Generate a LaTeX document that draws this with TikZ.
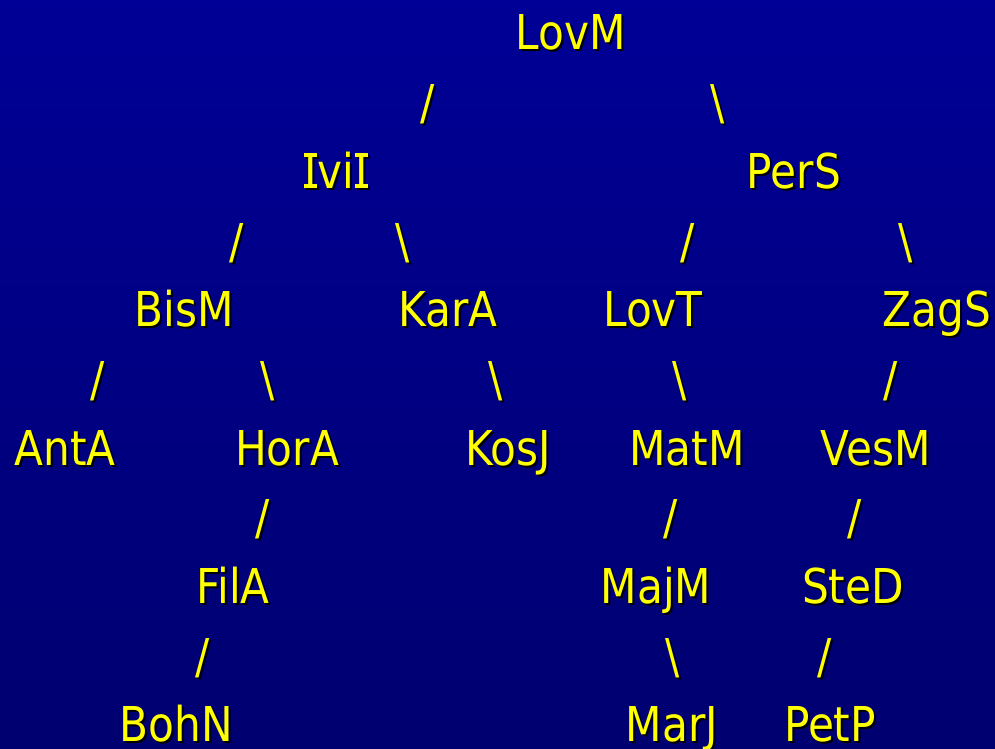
\documentclass[tikz,border=0pt]{standalone}
\usepackage{fontspec}
\setmainfont{DejaVu Sans}[FakeStretch=0.88]
\definecolor{bgtop}{RGB}{0,0,150}
\definecolor{bgbot}{RGB}{0,0,112}
\definecolor{labelyellow}{RGB}{255,255,0}
% yellow text with a small black drop shadow behind it
\newcommand\dropshadowed[1]{\rlap{\kern2pt\raisebox{-2pt}{\color{black}#1}}#1}
% capital I with serifs at top and bottom
\newcommand\serifI{\leavevmode\hbox{\kern0.02em\rlap{\rule{0.26em}{0.075em}}\rlap{\raisebox{0.654em}{\rule{0.26em}{0.075em}}}I\kern0.02em}}
\begin{document}
\begin{tikzpicture}[x=1pt,y=-1pt,
  lbl/.style={anchor=base, inner sep=0pt, text=labelyellow,
    font=\fontsize{48}{57}\selectfont},
  link/.style={lbl}]
\useasboundingbox (0,0) rectangle (995,748);
\shade[top color=bgtop, bottom color=bgbot] (0,0) rectangle (995,748);

% level 0
\node[lbl] (lovm) at (571,49) {\dropshadowed{LovM}};
\node[link] (l1a) at (428,119) {\dropshadowed{/}};
\node[link] (l1b) at (718,119) {\dropshadowed{\textbackslash}};
% level 1
\node[lbl] (ivii) at (336,188) {\dropshadowed{\serifI vi\serifI}};
\node[lbl] (pers) at (794,188) {\dropshadowed{PerS}};
\node[link] (l2a) at (237,258) {\dropshadowed{/}};
\node[link] (l2b) at (403,258) {\dropshadowed{\textbackslash}};
\node[link] (l2c) at (688,258) {\dropshadowed{/}};
\node[link] (l2d) at (906,258) {\dropshadowed{\textbackslash}};
% level 2
\node[lbl] (bism) at (184,326.5) {\dropshadowed{BisM}};
\node[lbl] (kara) at (448,326.5) {\dropshadowed{KarA}};
\node[lbl] (lovt) at (653,326.5) {\dropshadowed{LovT}};
\node[lbl] (zags) at (937,326.5) {\dropshadowed{ZagS}};
\node[link] (l3a) at (98,396) {\dropshadowed{/}};
\node[link] (l3b) at (268,396) {\dropshadowed{\textbackslash}};
\node[link] (l3c) at (496,396) {\dropshadowed{\textbackslash}};
\node[link] (l3d) at (680,396) {\dropshadowed{\textbackslash}};
\node[link] (l3e) at (891,396) {\dropshadowed{/}};
% level 3
\node[lbl] (anta) at (65,465) {\dropshadowed{AntA}};
\node[lbl] (hora) at (287,465) {\dropshadowed{HorA}};
\node[lbl] (kosj) at (508,465) {\dropshadowed{KosJ}};
\node[lbl] (matm) at (687,465) {\dropshadowed{MatM}};
\node[lbl] (vesm) at (876,465) {\dropshadowed{VesM}};
\node[link] (l4a) at (263,534.5) {\dropshadowed{/}};
\node[link] (l4b) at (671,534.5) {\dropshadowed{/}};
\node[link] (l4c) at (855,534.5) {\dropshadowed{/}};
% level 4
\node[lbl] (fila) at (233,603.5) {\dropshadowed{FilA}};
\node[lbl] (majm) at (656,603.5) {\dropshadowed{MajM}};
\node[lbl] (sted) at (853,603.5) {\dropshadowed{SteD}};
\node[link] (l5a) at (203,673) {\dropshadowed{/}};
\node[link] (l5b) at (673,673) {\dropshadowed{\textbackslash}};
\node[link] (l5c) at (825,673) {\dropshadowed{/}};
% level 5
\node[lbl] (bohn) at (176,741.5) {\dropshadowed{BohN}};
\node[lbl] (marj) at (672,741.5) {\dropshadowed{MarJ}};
\node[lbl] (petp) at (830,741.5) {\dropshadowed{PetP}};
\end{tikzpicture}
\end{document}
